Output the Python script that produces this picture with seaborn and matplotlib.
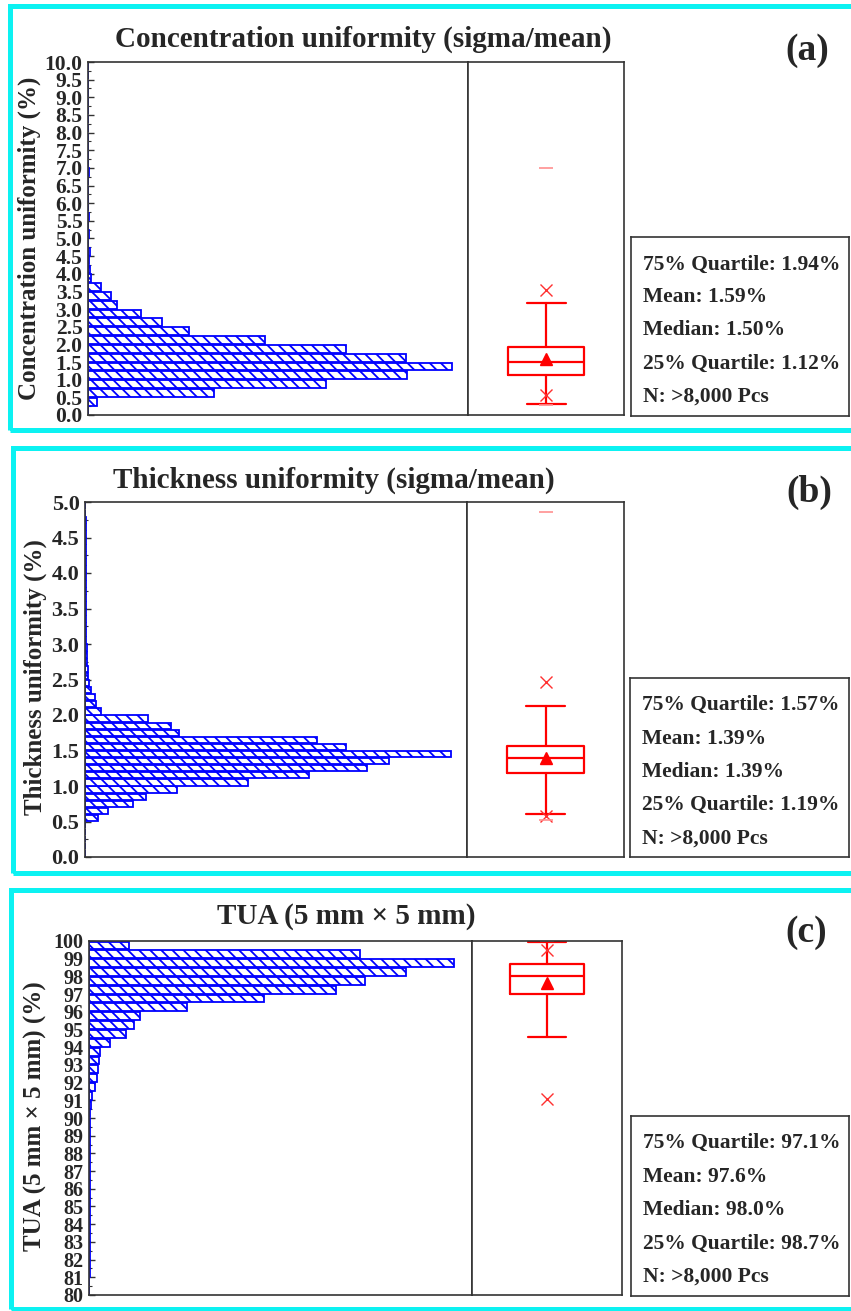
import numpy as np
import pandas as pd
import seaborn as sns
import matplotlib.pyplot as plt
from matplotlib.patches import Rectangle
from matplotlib.ticker import MultipleLocator, FormatStrFormatter

# ---------------- data ----------------
# (a) concentration uniformity, bins of 0.25 %
conc_edges = np.arange(0, 10.001, 0.25)
conc_counts = [0, 35, 504, 952, 1276, 1456, 1272, 1032, 708, 404,
               296, 212, 116, 92, 52, 12, 6, 4, 6, 0,
               4, 0, 4, 0, 0, 0, 0, 4, 0, 0,
               0, 0, 0, 0, 0, 0, 0, 0, 0, 0]
conc_box = [0.31, 1.12, 1.50, 1.94, 3.16]      # whislo, q1, med, q3, whishi
conc_mean = 1.59
conc_cross = [3.54, 0.57]                       # 1% / 99%
conc_dash = [6.99, 0.29]                        # min / max
conc_stats = ["75% Quartile: 1.94%", "Mean: 1.59%", "Median: 1.50%",
              "25% Quartile: 1.12%", "N: >8,000 Pcs"]

# (b) thickness uniformity, bins of 0.1 %
thick_edges = np.arange(0, 5.001, 0.1)
thick_counts = [0, 0, 0, 0, 0, 52, 92, 192, 244, 368,
                652, 896, 1128, 1216, 1464, 1044, 928, 376, 344, 252,
                64, 44, 40, 22, 16, 12, 10, 8, 7, 6,
                4, 3, 3, 3, 2, 2, 2, 2, 2, 2,
                2, 2, 2, 2, 2, 2, 2, 2, 1, 0]
thick_box = [0.61, 1.19, 1.39, 1.57, 2.13]
thick_mean = 1.39
thick_cross = [2.46, 0.58]
thick_dash = [4.86, 0.52]
thick_stats = ["75% Quartile: 1.57%", "Mean: 1.39%", "Median: 1.39%",
               "25% Quartile: 1.19%", "N: >8,000 Pcs"]

# (c) TUA 5 mm x 5 mm, bins of 0.5 %
tua_edges = np.arange(80, 100.001, 0.5)
tua_counts = [0, 0, 2, 3, 3, 3, 3, 3, 3, 3,
              3, 3, 3, 3, 3, 3, 3, 3, 3, 3,
              3, 7, 12, 25, 32, 36, 40, 45, 83, 149,
              181, 205, 392, 700, 988, 1104, 1268, 1460, 1084, 160]
tua_box = [94.6, 97.0, 98.0, 98.7, 99.95]
tua_mean = 97.6
tua_cross = [99.5, 91.1]
tua_dash = [100.0]
tua_stats = ["75% Quartile: 97.1%", "Mean: 97.6%", "Median: 98.0%",
             "25% Quartile: 98.7%", "N: >8,000 Pcs"]

# ---------------- style ----------------
sns.set_style("ticks")
plt.rcParams['font.family'] = ['Liberation Serif', 'DejaVu Serif']
plt.rcParams['font.weight'] = 'bold'
plt.rcParams['hatch.linewidth'] = 1.3

HATCH = chr(92) * 3   # dense "\" hatching like the original

W, H = 851, 1311
fig = plt.figure(figsize=(W / 100, H / 100), dpi=100)
fig.patch.set_facecolor('white')


def rect(x0, y0, x1, y1):
    return [x0 / W, 1 - y1 / H, (x1 - x0) / W, (y1 - y0) / H]


def fx(x):
    return x / W


def fy(y):
    return 1 - y / H


def style_spines(ax):
    for s in ax.spines.values():
        s.set_visible(True)
        s.set_color('#333333')
        s.set_linewidth(1.2)


def draw_panel(edges, counts, xmax, box, mean, cross, dash, ylim, major, minor,
               fmt, tsize, ylabel, title, tag, stats, g):
    # histogram (pre-binned counts fed as weights)
    ax = fig.add_axes(rect(*g['hist']))
    df = pd.DataFrame({'value': (edges[:-1] + edges[1:]) / 2,
                       'count': counts})
    sns.histplot(data=df, y='value', weights='count', bins=list(edges), ax=ax,
                 shrink=0.88, facecolor='white', edgecolor='#0000ff',
                 linewidth=1.3)
    for p in ax.patches:
        p.set_hatch(HATCH)
        p.set_facecolor('white')
        p.set_edgecolor('#0000ff')
    ax.set_xlim(0, xmax)
    ax.set_ylim(*ylim)
    ax.set_xticks([])
    ax.set_xlabel('')
    ax.set_ylabel('')
    ax.yaxis.set_major_locator(MultipleLocator(major))
    ax.yaxis.set_minor_locator(MultipleLocator(minor))
    ax.yaxis.set_major_formatter(FormatStrFormatter(fmt))
    ax.tick_params(axis='y', which='major', direction='in', length=4,
                   width=1, labelsize=tsize, pad=4, color='#333333')
    ax.tick_params(axis='y', which='minor', direction='in', length=2.5,
                   width=0.8, color='#333333')
    style_spines(ax)

    # box plot
    bx = fig.add_axes(rect(*g['box']))
    st = dict(whislo=box[0], q1=box[1], med=box[2], q3=box[3], whishi=box[4],
              mean=mean)
    red = dict(color='red', linewidth=1.6)
    bx.bxp([st], positions=[0.5], widths=[0.49], capwidths=[0.25],
           showmeans=True, showfliers=False, manage_ticks=False,
           boxprops=red, whiskerprops=red, capprops=red, medianprops=red,
           meanprops=dict(marker='^', markerfacecolor='red',
                          markeredgecolor='red', markersize=9))
    bx.plot([0.5] * len(cross), cross, linestyle='none', marker='x',
            color='#ff3030', markersize=9, markeredgewidth=1.0)
    bx.plot([0.5] * len(dash), dash, linestyle='none', marker='_',
            color='#ff9090', markersize=10, markeredgewidth=1.2)
    bx.set_xlim(0, 1)
    bx.set_ylim(*ylim)
    bx.set_xticks([])
    bx.set_yticks([])
    style_spines(bx)

    # statistics box
    sx = fig.add_axes(rect(*g['stats']))
    sx.set_xticks([])
    sx.set_yticks([])
    style_spines(sx)
    for txt, yb in zip(stats, g['lines']):
        fig.text(fx(g['tx']), fy(yb), txt, fontsize=15.5, fontweight='bold',
                 ha='left', va='baseline')

    # texts
    fig.text(fx(g['title'][0]), fy(g['title'][1]), title, fontsize=21,
             fontweight='bold', ha='center', va='baseline')
    fig.text(fx(g['tag'][0]), fy(g['tag'][1]), tag, fontsize=27,
             fontweight='bold', ha='center', va='baseline')
    fig.text(fx(g['ylab'][0]), fy(g['ylab'][1]), ylabel, fontsize=18,
             fontweight='bold', rotation=90, ha='center', va='center')

    # cyan frame
    fr = g['frame']
    fig.add_artist(Rectangle((fx(fr[0]), fy(fr[2])), (900 - fr[0]) / W,
                             (fr[2] - fr[1]) / H, transform=fig.transFigure,
                             fill=False, edgecolor='#0cf2f2', linewidth=3.6,
                             clip_on=False))


geo_a = dict(hist=(88, 62, 468, 415), box=(468, 62, 624, 415),
             stats=(631, 237, 849, 416), tx=643,
             lines=[269.5, 302, 335, 368.5, 402],
             title=(363, 47), tag=(807.5, 60), ylab=(29, 238),
             frame=(10, 6, 429.5))
geo_b = dict(hist=(85, 502, 467, 857), box=(467, 502, 624, 857),
             stats=(630, 678, 849, 857), tx=642,
             lines=[710, 743.5, 777, 810, 843.5],
             title=(333.5, 488), tag=(809, 502), ylab=(35, 677.5),
             frame=(12.5, 448.5, 872.5))
geo_c = dict(hist=(89, 941, 472, 1295), box=(472, 941, 622, 1295),
             stats=(631, 1116, 849, 1296), tx=643,
             lines=[1148, 1181.5, 1215, 1248.5, 1281.5],
             title=(346, 924), tag=(806, 942), ylab=(35, 1116.5),
             frame=(10.5, 889.5, 1309))

draw_panel(conc_edges, conc_counts, 1520, conc_box, conc_mean, conc_cross,
           conc_dash, (0, 10), 0.5, 0.25, '%.1f', 15.5,
           'Concentration uniformity (%)',
           'Concentration uniformity (sigma/mean)', '(a)', conc_stats, geo_a)
draw_panel(thick_edges, thick_counts, 1528, thick_box, thick_mean, thick_cross,
           thick_dash, (0, 5), 0.5, 0.25, '%.1f', 16,
           'Thickness uniformity (%)',
           'Thickness uniformity (sigma/mean)', '(b)', thick_stats, geo_b)
draw_panel(tua_edges, tua_counts, 1532, tua_box, tua_mean, tua_cross,
           tua_dash, (80, 100), 1, 0.5, '%d', 14.5,
           'TUA (5 mm \u00d7 5 mm) (%)',
           'TUA (5 mm \u00d7 5 mm)', '(c)', tua_stats, geo_c)

fig.savefig('out.png', dpi=100, facecolor='white')
